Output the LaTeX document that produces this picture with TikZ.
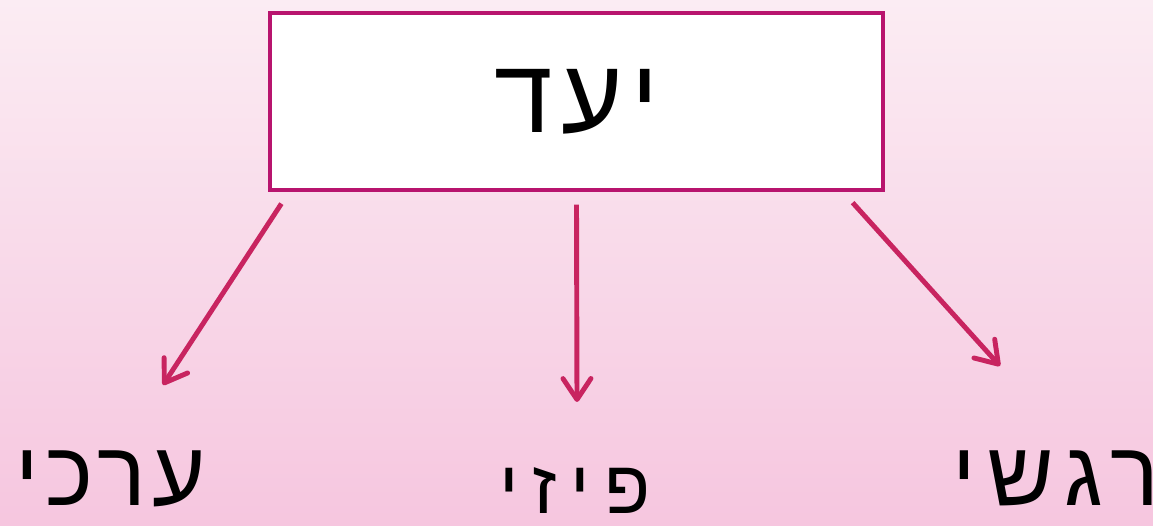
\documentclass[tikz,border=0pt]{standalone}
\usepackage{fontspec}
\newfontfamily\hebfont[Script=Hebrew]{Liberation Sans}
\TeXXeTstate=1
\usetikzlibrary{arrows.meta}
\definecolor{bgtop}{RGB}{251,236,243}
\definecolor{bgbot}{RGB}{246,198,223}
\definecolor{boxline}{RGB}{184,20,110}
\definecolor{arrline}{RGB}{200,36,96}

\begin{document}
\begin{tikzpicture}[x=0.02cm,y=-0.02cm,
  goal/.style={draw=boxline,line width=1.9pt,fill=white,minimum width=12.26cm,
               minimum height=3.54cm,inner sep=0pt,
               font=\hebfont\addfontfeature{LetterSpace=8}\fontsize{60}{62}\selectfont},
  kind/.style={inner sep=0pt,font=\hebfont\addfontfeature{LetterSpace=7}\fontsize{52}{54}\selectfont},
  ar/.style={-{Straight Barb[length=4.2mm,width=5.6mm,round]},line width=2.8pt,draw=arrline}]
  \shade[top color=bgtop,bottom color=bgbot] (0,0) rectangle (1153,526);
  \useasboundingbox (0,0) rectangle (1153,526);
  \node[goal] (box) at (576.5,101.5) {\beginR יעד\endR};
  \node[kind,anchor=base west] (left) at (15,506) {\beginR ערכי\endR};
  \node[kind,anchor=base,font=\hebfont\addfontfeature{LetterSpace=18}\fontsize{43}{45}\selectfont] (mid) at (575,514) {\beginR פיזי\endR};
  \node[kind,anchor=base west,font=\hebfont\addfontfeature{LetterSpace=13}\fontsize{52}{54}\selectfont] (right) at (952,506) {\beginR רגשי\endR};
  \draw[ar] ([shift={(13,12)}]box.south west) -- ([shift={(148,-121)}]left.base west);
  \draw[ar] ([shift={(0,13)}]box.south) -- ([shift={(2,-112)}]mid.base);
  \draw[ar] ([shift={(-32,11)}]box.south east) -- ([shift={(48,-140)}]right.base west);
\end{tikzpicture}
\end{document}
